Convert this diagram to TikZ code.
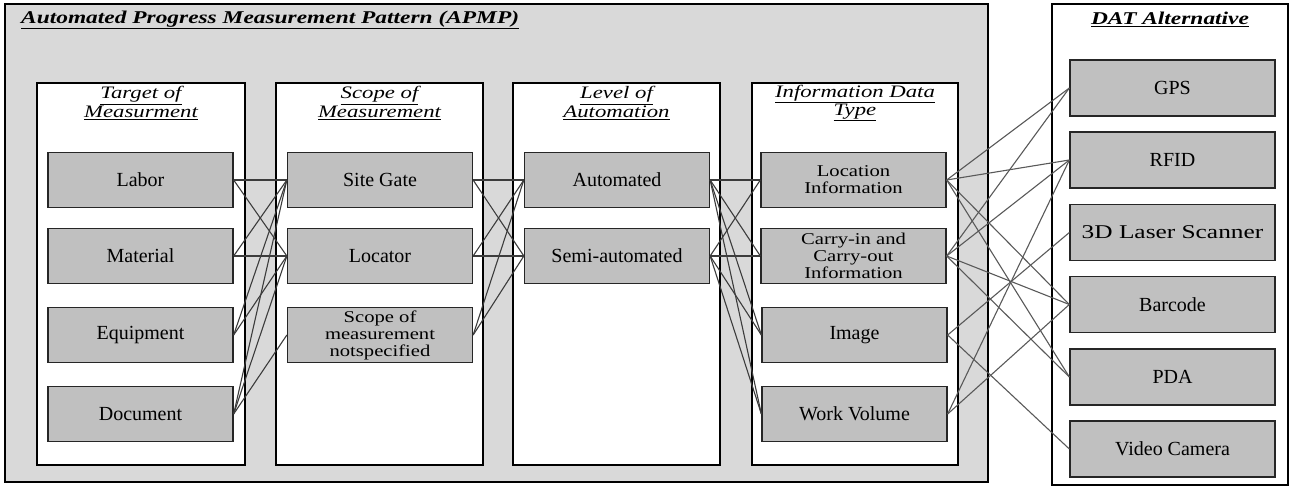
\documentclass[tikz,border=0pt]{standalone}
\usepackage{fontspec}
\setmainfont{Liberation Serif}
\newfontfamily\mlfont{Liberation Serif}[FakeStretch=1.25]
\newfontfamily\ttlfont{Liberation Serif}[FakeStretch=1.3]
\newfontfamily\widefont{Liberation Serif}[FakeStretch=1.3]
\definecolor{bggray}{HTML}{D9D9D9}
\definecolor{boxgray}{HTML}{C0C0C0}
\definecolor{linkgray}{HTML}{3C3C3C}
\tikzset{
  outerbox/.style={draw=black, line width=2pt, inner sep=0pt},
  colbox/.style={draw=black, line width=2.6pt, fill=white, inner sep=0pt, minimum height=382pt},
  item/.style={draw=black!85, line width=1.3pt, fill=boxgray, minimum width=185pt, minimum height=55pt,
    inner sep=0pt, align=center, font=\fontsize{20}{20}\selectfont},
  mitem/.style={item, font=\mlfont\fontsize{16.5}{17}\selectfont},
  datitem/.style={item, minimum width=205pt, minimum height=56pt},
  link/.style={draw=linkgray, line width=1.1pt},
  ctitle/.style={align=center, inner sep=0pt, font=\ttlfont\itshape\fontsize{17.5}{17}\selectfont},
  mtitle/.style={inner sep=0pt, font=\ttlfont\bfseries\itshape\fontsize{18}{18}\selectfont},
}
\begin{document}
\begin{tikzpicture}[x=1pt,y=-1pt]
\useasboundingbox (0,0) rectangle (1292,487);
% outer frames
\node[outerbox, fill=bggray, minimum width=983pt, minimum height=478pt] (apmp) at (496.5,243) {};
\node[outerbox, fill=white, minimum width=236pt, minimum height=481pt] (dat) at (1170,244.5) {};
\node[mtitle, anchor=west] (apmpt) at (21,20) {\underline{Automated Progress Measurement Pattern (APMP)}};
\node[mtitle] (datt) at (1170,19) {\underline{DAT Alternative}};
% columns
\node[colbox, minimum width=208pt] (col1) at (141,274) {};
\node[colbox, minimum width=207pt] (col2) at (379.5,274) {};
\node[colbox, minimum width=207pt] (col3) at (616.5,274) {};
\node[colbox, minimum width=206pt] (col4) at (855,274) {};
\node[ctitle] (t1) at (141,103) {\underline{Target of}\\\underline{Measurment}};
\node[ctitle] (t2) at (379.5,103) {\underline{Scope of}\\\underline{Measurement}};
\node[ctitle] (t3) at (616.5,103) {\underline{Level of}\\\underline{Automation}};
\node[ctitle] (t4) at (855,103) {\underline{Information Data}\\\underline{Type}};
% column 1
\node[item] (lab) at (140.5,180) {Labor};
\node[item] (mat) at (140.5,256) {Material};
\node[item] (equ) at (140.5,335) {Equipment};
\node[item] (doc) at (140.5,414) {Document};
% column 2
\node[item] (sg) at (380,180) {Site Gate};
\node[item] (loc) at (380,256) {Locator};
\node[mitem] (sns) at (380,335) {Scope of\\measurement\\notspecified};
% column 3
\node[item] (aut) at (617,180) {Automated};
\node[item] (semi) at (617,256) {Semi-automated};
% column 4
\node[mitem] (li) at (853.5,180) {Location\\Information};
\node[mitem] (ci) at (853.5,256) {Carry-in and\\Carry-out\\Information};
\node[item] (img) at (854.5,335) {Image};
\node[item] (wv) at (854.5,414) {Work Volume};
% DAT alternatives
\node[datitem] (gps) at (1172.5,88) {GPS};
\node[datitem] (rfid) at (1172.5,160) {RFID};
\node[datitem, font=\widefont\fontsize{19.5}{20}\selectfont] (las) at (1172.5,232.5) {3D Laser Scanner};
\node[datitem] (bar) at (1172.5,304.5) {Barcode};
\node[datitem] (pda) at (1172.5,377) {PDA};
\node[datitem] (vid) at (1172.5,449) {Video Camera};
% links col1 -> col2
\foreach \a/\b in {lab/sg, lab/loc, mat/sg, mat/loc, equ/sg, equ/loc, doc/sg, doc/loc, doc/sns}
  \draw[link] (\a.east) -- (\b.west);
% links col2 -> col3
\foreach \a/\b in {sg/aut, sg/semi, loc/aut, loc/semi, sns/aut, sns/semi}
  \draw[link] (\a.east) -- (\b.west);
% links col3 -> col4
\foreach \a/\b in {aut/li, aut/ci, aut/img, aut/wv, semi/li, semi/ci, semi/img, semi/wv}
  \draw[link] (\a.east) -- (\b.west);
% links col4 -> DAT
\foreach \a/\b in {li/gps, li/rfid, li/bar, li/pda, ci/gps, ci/rfid, ci/bar, ci/pda, img/las, img/vid, wv/rfid, wv/bar}
  \draw[link, draw=black!65] (\a.east) -- (\b.west);
\end{tikzpicture}
\end{document}
